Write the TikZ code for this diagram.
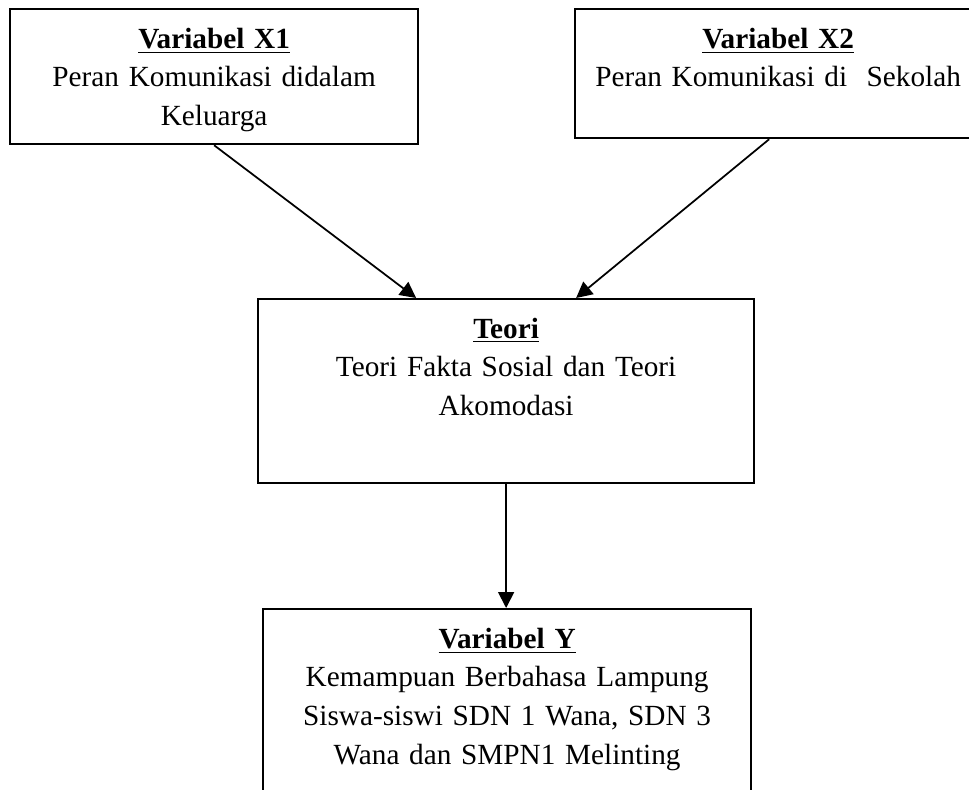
\documentclass[tikz,border=0pt]{standalone}
\usepackage{fontspec}
\setmainfont{Liberation Serif}
\usetikzlibrary{calc,arrows.meta}

\tikzset{
  box/.style={draw, line width=0.9pt, inner sep=0pt, text width=#1, align=center,
    font=\fontsize{11.7}{15.5}\selectfont, text height=15.6pt, anchor=north west},
  link/.style={-{Triangle[length=6.4pt,width=6.4pt]}, line width=0.7pt}
}

\begin{document}
\begin{tikzpicture}[x=0.4pt,y=-0.4pt]
        \clip (0,0) rectangle (969,789);
        % variabel boxes
        \node[box=163.2pt, text depth=38.4pt] (x1) at (9,8)
          {\underline{\textbf{Variabel X1}}\\ Peran Komunikasi didalam\\ Keluarga};
        \node[box=162.4pt, text depth=36pt] (x2) at (574,8)
          {\underline{\textbf{Variabel X2}}\\ Peran Komunikasi di\ \ Sekolah};
        % teori
        \node[box=198.4pt, text depth=58pt] (teori) at (257,298)
          {\underline{\textbf{Teori}}\\ Teori Fakta Sosial dan Teori\\ Akomodasi};
        \node[box=195.2pt, text depth=61.2pt] (y) at (262,608)
          {\underline{\textbf{Variabel Y}}\\ Kemampuan Berbahasa Lampung\\ Siswa-siswi SDN 1 Wana, SDN 3\\ Wana dan SMPN1 Melinting};
        % arrows
        \draw[link] (x1.south) -- ($(teori.north)+(-90,0)$);
        \draw[link] ($(x2.south)+(-9,0)$) -- ($(teori.north)+(70,0)$);
        \draw[link] (teori.south) -- (teori.south |- y.north);
      \end{tikzpicture}
\end{document}
